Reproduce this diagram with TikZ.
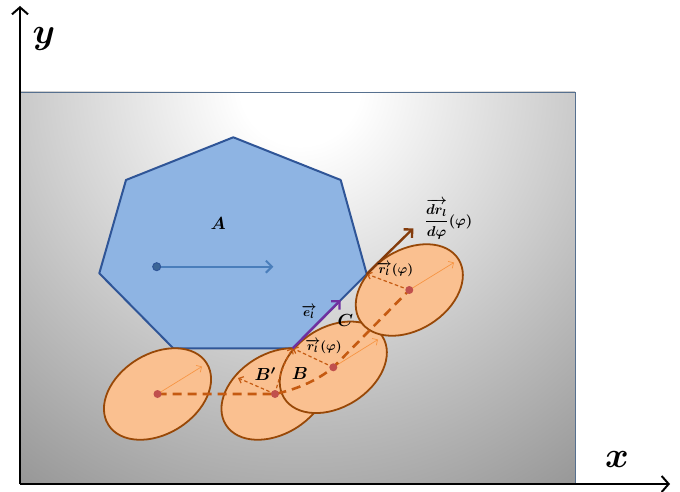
\documentclass[tikz,border=0pt]{standalone}
\usepackage{amsmath,bm}
\usetikzlibrary{arrows.meta}
\definecolor{hepfill}{HTML}{8EB4E3}
\definecolor{hepline}{HTML}{2F5597}
\definecolor{ellfill}{HTML}{FAC090}
\definecolor{ellline}{HTML}{984807}
\definecolor{dashc}{HTML}{C55A11}
\definecolor{thinc}{HTML}{F79646}
\definecolor{dotc}{HTML}{C0504D}
\definecolor{brownc}{HTML}{843C0C}
\definecolor{purplec}{HTML}{7030A0}
\definecolor{bluearr}{HTML}{4A7EBB}
\definecolor{framec}{HTML}{56708F}
\pgfdeclareradialshading{bgshade}{\pgfpoint{0bp}{0bp}}{color(0bp)=(white);color(3bp)=(white);color(25bp)=(black!42);color(50bp)=(black!42)}
\tikzset{
  ell/.style={fill=ellfill, draw=ellline, line width=1.8pt},
  bigdash/.style={draw=dashc, line width=2.6pt, dash pattern=on 9pt off 6pt},
  smalldash/.style={draw=dashc, line width=1.2pt, dash pattern=on 3.5pt off 2.5pt, -{Straight Barb[length=4pt,width=7pt]}},
  thinarr/.style={draw=thinc, line width=0.7pt, -{Straight Barb[length=4pt,width=8pt]}},
  reddot/.style={circle, fill=dotc, inner sep=0pt, minimum size=8pt},
  lbl/.style={font=\boldmath, inner sep=0pt, scale=1.75, transform shape},
  slbl/.style={font=\boldmath, inner sep=0pt, scale=1.3, transform shape},
  biglbl/.style={font=\boldmath, inner sep=0pt, scale=3.6, transform shape},
  axis/.style={line width=2.4pt, -{Straight Barb[length=7pt,width=16pt,line width=2pt]}}
}
\begin{document}
\begin{tikzpicture}[x=1pt,y=-1pt]
\useasboundingbox (0,0) rectangle (680,492);
% background
\begin{scope}
  \clip (20,92) rectangle (575,484);
  \shade[shading=bgshade] (-200,-415) rectangle (800,585);
\end{scope}
\draw[framec, line width=0.8pt] (20,92) rectangle (575,484);
% heptagon
\coordinate (h1) at (233.3,137.3);
\coordinate (h2) at (340.7,180);
\coordinate (h3) at (366.7,274);
\coordinate (h4) at (292.7,348.3);
\coordinate (h5) at (173.3,348.3);
\coordinate (h6) at (99.3,273.3);
\coordinate (h7) at (126,180);
\fill[hepfill] (h1)--(h2)--(h3)--(h4)--(h5)--(h6)--(h7)--cycle;
\draw[draw=hepline, line width=2pt, line join=round] (h1)--(h2)--(h3)--(h4)--(h5)--(h6)--(h7)--cycle;
\node[circle, fill=bluearr!80!black, draw=hepline, line width=1pt, inner sep=0pt, minimum size=8pt] (ac) at (156.7,266.7) {};
\coordinate (ae) at (273.3,266.7);
\draw[bluearr, line width=2pt, -{Straight Barb[length=6pt,width=12pt]}] (ac) -- (ae);
\node[lbl] (la) at (218.3,223) {$A$};
% ellipses
\coordinate (c4) at (157.5,394);
\coordinate (c3) at (275,394);
\coordinate (c2) at (333.3,367.3);
\coordinate (c1) at (409.3,290);
\draw[ell, rotate around={32:(c4)}] (c4) ellipse [x radius=58, y radius=40];
\draw[ell, rotate around={32:(c3)}] (c3) ellipse [x radius=58, y radius=40];
\draw[ell, rotate around={32:(c2)}] (c2) ellipse [x radius=58, y radius=40];
\draw[ell, rotate around={32:(c1)}] (c1) ellipse [x radius=58, y radius=40];
% thin major-axis arrows
\coordinate (t4) at (202,366.5);
\coordinate (t2) at (378,339.5);
\coordinate (t1) at (454,262.5);
\draw[thinarr] (c4) -- (t4);
\draw[thinarr] (c2) -- (t2);
\draw[thinarr] (c1) -- (t1);
% thick dashed path
\draw[bigdash] (c4) -- (c3) .. controls (298,389) and (318,380) .. (c2) -- (c1);
% small dashed arrows
\coordinate (s3) at (238,378);
\draw[smalldash] (c3) -- (s3);
\draw[smalldash] (c2) -- (h4);
\draw[smalldash] (c1) -- (h3);
\draw[smalldash] (c3) .. controls (279,378) and (284,362) .. (h4);
% centre dots
\node[reddot] at (c4) {};
\node[reddot] at (c3) {};
\node[reddot] at (c2) {};
\node[reddot] at (c1) {};
% coloured arrows
\coordinate (pe) at (340.7,300);
\draw[purplec, line width=2.4pt, -{Straight Barb[length=6pt,width=12pt]}] (h4) -- (pe);
\coordinate (be) at (413.3,228.3);
\draw[brownc, line width=2.4pt, -{Straight Barb[length=6pt,width=12pt]}] (h3) -- (be);
% labels
\node[slbl] (le) at (309,312) {$\overrightarrow{e_l}$};
\node[lbl] (lc) at (345.5,320) {$C$};
\node[lbl] (lb) at (300,373.5) {$B$};
\node[lbl] (lbp) at (265.5,374) {$B'$};
\node[slbl] (lr2) at (323.5,346.5) {$\overrightarrow{r_l}(\varphi)$};
\node[slbl] (lr1) at (395,269.5) {$\overrightarrow{r_l}(\varphi)$};
\node[slbl, scale=1.1, anchor=west] (ld) at (424,219) {$\dfrac{\overrightarrow{dr_l}}{d\varphi}(\varphi)$};
% axes
\coordinate (o) at (20,484);
\coordinate (yt) at (20,6);
\coordinate (xt) at (670,484);
\draw[axis] (o) -- (yt);
\draw[axis] (o) -- (xt);
\node[biglbl] (lx) at (617,459) {$x$};
\node[biglbl] (ly) at (44,39) {$y$};
\end{tikzpicture}
\end{document}
